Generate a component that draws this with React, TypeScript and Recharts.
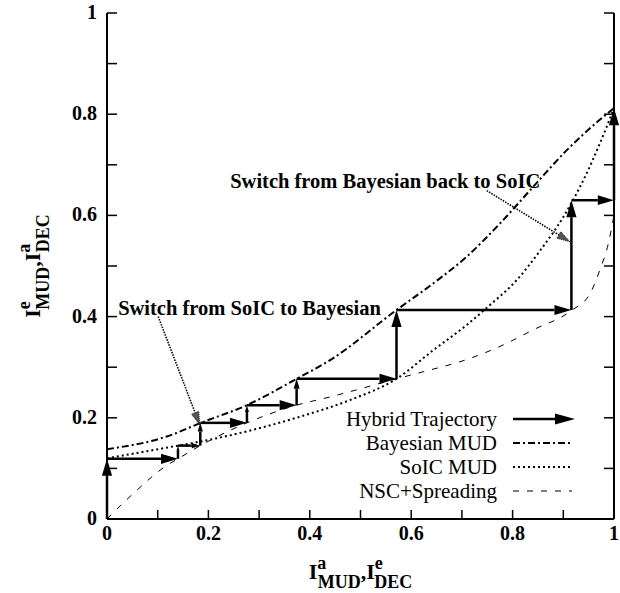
import React from 'react';
import { LineChart, Line, XAxis, YAxis, ReferenceLine, ReferenceDot, Legend } from 'recharts';

// ---- data ----
const axisTicks = [0, 0.1, 0.2, 0.3, 0.4, 0.5, 0.6, 0.7, 0.8, 0.9, 1];

const bayesX = [0, 0.118, 0.185, 0.276, 0.374, 0.44, 0.571, 0.644, 0.709, 0.775, 0.841, 0.907, 0.972, 1];
const bayesY = [0.138, 0.163, 0.19, 0.225, 0.277, 0.314, 0.413, 0.466, 0.518, 0.584, 0.657, 0.729, 0.789, 0.812];

const soicX = [0, 0.14, 0.184, 0.38, 0.479, 0.571, 0.644, 0.709, 0.752, 0.808, 0.854, 0.9, 0.946, 0.972, 1];
const soicY = [0.12, 0.145, 0.153, 0.202, 0.235, 0.277, 0.334, 0.383, 0.42, 0.472, 0.53, 0.597, 0.683, 0.742, 0.812];

const nscX = [0, 0.059, 0.118, 0.14, 0.184, 0.276, 0.374, 0.439, 0.571, 0.62, 0.709, 0.775, 0.841, 0.916, 0.953, 0.972, 0.989, 1];
const nscY = [0, 0.057, 0.106, 0.119, 0.145, 0.19, 0.225, 0.241, 0.277, 0.29, 0.315, 0.341, 0.374, 0.412, 0.446, 0.492, 0.545, 0.6];

const trajX = [0, 0, 0.14, 0.14, 0.184, 0.184, 0.276, 0.276, 0.374, 0.374, 0.571, 0.571, 0.916, 0.916, 1, 1];
const trajY = [0, 0.119, 0.119, 0.145, 0.145, 0.19, 0.19, 0.225, 0.225, 0.277, 0.277, 0.413, 0.413, 0.63, 0.63, 0.812];

const annotTexts = ['Switch from SoIC to Bayesian', 'Switch from Bayesian back to SoIC'];
const annotTextX = [0.022, 0.243];
const annotTextY = [0.403, 0.655];
const annotFromX = [0.101, 0.749];
const annotFromY = [0.4, 0.649];
const annotToX = [0.183, 0.913];
const annotToY = [0.186, 0.548];

const legendNames = ['Hybrid Trajectory', 'Bayesian MUD', 'SoIC MUD', 'NSC+Spreading'];

// ---- derived tables ----
const zip = (xs: number[], ys: number[]) => xs.map((x, i) => ({ x, y: ys[i] }));
const bayesData = zip(bayesX, bayesY);
const soicData = zip(soicX, soicY);
const nscData = zip(nscX, nscY);
const trajSegments = trajX.slice(1).map((_, i) => [
  { x: trajX[i], y: trajY[i] },
  { x: trajX[i + 1], y: trajY[i + 1] },
]);

const SERIF = 'Liberation Serif, Times New Roman, serif';
const STYLE_BAYES = { strokeWidth: 2, dash: '7 3 2 3' };
const STYLE_SOIC = { strokeWidth: 2, dash: '2 3' };
const STYLE_NSC = { strokeWidth: 1, dash: '6 8' };

const isMajor = (v: number) => Math.round(v * 10) % 2 === 0;
const fmt = (v: number) => (v === 0 ? '0' : v === 1 ? '1' : v.toFixed(1));

const BottomTick = (p: any) => {
  const { x, y, payload } = p;
  const v = payload.value;
  return (
    <g>
      <line x1={x} x2={x} y1={y} y2={y - 9} stroke="#000" strokeWidth={1.5} />
      {isMajor(v) && (
        <text x={x} y={y + 21} textAnchor="middle" fontFamily={SERIF} fontWeight="bold" fontSize={20} fill="#000">
          {fmt(v)}
        </text>
      )}
    </g>
  );
};
const TopTick = (p: any) => (
  <line x1={p.x} x2={p.x} y1={p.y} y2={p.y + 9} stroke="#000" strokeWidth={1.5} />
);
const LeftTick = (p: any) => {
  const { x, y, payload } = p;
  const v = payload.value;
  return (
    <g>
      <line x1={x} x2={x + 10} y1={y} y2={y} stroke="#000" strokeWidth={1.5} />
      {isMajor(v) && (
        <text x={x - 10} y={y + 6} textAnchor="end" fontFamily={SERIF} fontWeight="bold" fontSize={20} fill="#000">
          {fmt(v)}
        </text>
      )}
    </g>
  );
};
const RightTick = (p: any) => (
  <line x1={p.x} x2={p.x - 10} y1={p.y} y2={p.y} stroke="#000" strokeWidth={1.5} />
);

const AxisTitle = ({ x, y, sup1, sub1, sup2, sub2, rotate }: any) => (
  <text
    x={x}
    y={y}
    textAnchor="middle"
    fontFamily={SERIF}
    fontWeight="bold"
    fill="#000"
    transform={rotate ? `rotate(-90, ${x}, ${y})` : undefined}
  >
    <tspan fontSize={22}>I</tspan>
    <tspan fontSize={18} dy={-10}>{sup1}</tspan>
    <tspan fontSize={18} dx={-8.5} dy={19}>{sub1}</tspan>
    <tspan fontSize={22} dy={-9}>,I</tspan>
    <tspan fontSize={18} dy={-10}>{sup2}</tspan>
    <tspan fontSize={18} dx={-8.5} dy={19}>{sub2}</tspan>
  </text>
);

const XTitle = (p: any) => {
  const vb = p.viewBox || { x: 107, y: 519, width: 507 };
  return <AxisTitle x={vb.x + vb.width / 2} y={vb.y + 60} sup1="a" sub1="MUD" sup2="e" sub2="DEC" />;
};
const YTitle = (p: any) => {
  const vb = p.viewBox || { x: 0, y: 13, height: 506 };
  return <AxisTitle x={vb.x + 40} y={vb.y + vb.height / 2} sup1="e" sub1="MUD" sup2="a" sub2="DEC" rotate />;
};

const arrowHead = (x1: number, y1: number, x2: number, y2: number, maxLen: number, ratio: number, widthRatio: number) => {
  const dx = x2 - x1;
  const dy = y2 - y1;
  const len = Math.hypot(dx, dy) || 1;
  const ux = dx / len;
  const uy = dy / len;
  const hl = Math.min(maxLen, len * ratio);
  const hw = hl * widthRatio;
  const bx = x2 - ux * hl;
  const by = y2 - uy * hl;
  const pts = `${x2},${y2} ${bx - uy * hw},${by + ux * hw} ${bx + uy * hw},${by - ux * hw}`;
  return { bx, by, pts };
};

const TrajArrow = (p: any) => {
  const x1 = Number(p.x1), y1 = Number(p.y1), x2 = Number(p.x2), y2 = Number(p.y2);
  const { bx, by, pts } = arrowHead(x1, y1, x2, y2, 17, 0.38, 0.3);
  return (
    <g>
      <line x1={x1} y1={y1} x2={bx} y2={by} stroke="#000" strokeWidth={2.5} />
      <polygon points={pts} fill="#000" />
    </g>
  );
};

const AnnotArrow = (p: any) => {
  const x1 = Number(p.x1), y1 = Number(p.y1), x2 = Number(p.x2), y2 = Number(p.y2);
  const { bx, by, pts } = arrowHead(x1, y1, x2, y2, 13, 0.3, 0.3);
  return (
    <g>
      <line x1={x1} y1={y1} x2={bx} y2={by} stroke="#000" strokeWidth={1.6} strokeDasharray="1.5 1.2" />
      <polygon points={pts} fill="#555" stroke="#000" strokeWidth={0.8} strokeDasharray="1 1" />
    </g>
  );
};

const AnnotText = (text: string) => (p: any) => (
  <text x={p.cx} y={p.cy} fontFamily={SERIF} fontWeight="bold" fontSize={20.5} fill="#000">
    {text}
  </text>
);

const renderLegend = () => {
  const right = 157;
  const rows = [19, 43, 67, 91];
  const x0 = 173;
  const x1 = 232;
  const styles = [null, STYLE_BAYES, STYLE_SOIC, STYLE_NSC];
  return (
    <svg width={280} height={110} style={{ display: 'block', overflow: 'visible' }}>
      {legendNames.map((name, i) => {
        const cy = rows[i];
        const st = styles[i];
        let sample;
        if (!st) {
          const { bx, pts } = arrowHead(x0, cy, x1 + 3, cy, 20, 0.4, 0.27);
          sample = (
            <g>
              <line x1={x0} y1={cy} x2={bx} y2={cy} stroke="#000" strokeWidth={2.5} />
              <polygon points={pts} fill="#000" />
            </g>
          );
        } else {
          sample = (
            <line x1={x0} y1={cy} x2={x1} y2={cy} stroke="#000" strokeWidth={st.strokeWidth} strokeDasharray={st.dash} />
          );
        }
        return (
          <g key={name}>
            <text x={right} y={cy + 7} textAnchor="end" fontFamily={SERIF} fontSize={21} fill="#000">
              {name}
            </text>
            {sample}
          </g>
        );
      })}
    </svg>
  );
};

export default function App() {
  const axisLine = { stroke: '#000', strokeWidth: 2 };
  return (
    <div style={{ position: 'absolute', left: 0, top: 0, width: 620, height: 593, background: '#fff' }}>
      <LineChart width={620} height={593} margin={{ top: 13, right: 0, bottom: 0, left: 0 }}>
        <XAxis
          type="number"
          dataKey="x"
          domain={[0, 1]}
          ticks={axisTicks}
          interval={0}
          allowDataOverflow
          height={74}
          tickSize={0}
          tickMargin={0}
          tickLine={false}
          axisLine={axisLine}
          tick={<BottomTick />}
          label={<XTitle />}
        />
        <XAxis
          xAxisId="t"
          orientation="top"
          type="number"
          dataKey="x"
          domain={[0, 1]}
          ticks={axisTicks}
          interval={0}
          allowDataOverflow
          height={0}
          tickSize={0}
          tickMargin={0}
          tickLine={false}
          axisLine={axisLine}
          tick={<TopTick />}
        />
        <YAxis
          type="number"
          domain={[0, 1]}
          ticks={axisTicks}
          interval={0}
          allowDataOverflow
          width={107}
          tickSize={0}
          tickMargin={0}
          tickLine={false}
          axisLine={axisLine}
          tick={<LeftTick />}
          label={<YTitle />}
        />
        <YAxis
          yAxisId="r"
          orientation="right"
          type="number"
          domain={[0, 1]}
          ticks={axisTicks}
          interval={0}
          allowDataOverflow
          width={6}
          tickSize={0}
          tickMargin={0}
          tickLine={false}
          axisLine={axisLine}
          tick={<RightTick />}
        />
        <Legend
          content={renderLegend}
          layout="vertical"
          verticalAlign="middle"
          align="center"
          wrapperStyle={{ left: 340, top: 400, width: 280, height: 110 }}
        />
        <Line
          data={nscData}
          dataKey="y"
          name="NSC+Spreading"
          type="monotone"
          stroke="#000"
          strokeWidth={STYLE_NSC.strokeWidth}
          strokeDasharray={STYLE_NSC.dash}
          dot={false}
          activeDot={false}
          isAnimationActive={false}
        />
        <Line
          data={soicData}
          dataKey="y"
          name="SoIC MUD"
          type="monotone"
          stroke="#000"
          strokeWidth={STYLE_SOIC.strokeWidth}
          strokeDasharray={STYLE_SOIC.dash}
          dot={false}
          activeDot={false}
          isAnimationActive={false}
        />
        <Line
          data={bayesData}
          dataKey="y"
          name="Bayesian MUD"
          type="monotone"
          stroke="#000"
          strokeWidth={STYLE_BAYES.strokeWidth}
          strokeDasharray={STYLE_BAYES.dash}
          dot={false}
          activeDot={false}
          isAnimationActive={false}
        />
        {trajSegments.map((seg, i) => (
          <ReferenceLine key={`t${i}`} segment={seg} shape={TrajArrow} ifOverflow="visible" />
        ))}
        {annotTexts.map((t, i) => (
          <ReferenceLine
            key={`a${i}`}
            segment={[
              { x: annotFromX[i], y: annotFromY[i] },
              { x: annotToX[i], y: annotToY[i] },
            ]}
            shape={AnnotArrow}
            ifOverflow="visible"
          />
        ))}
        {annotTexts.map((t, i) => (
          <ReferenceDot key={`d${i}`} x={annotTextX[i]} y={annotTextY[i]} r={0} shape={AnnotText(t)} ifOverflow="visible" />
        ))}
      </LineChart>
    </div>
  );
}
